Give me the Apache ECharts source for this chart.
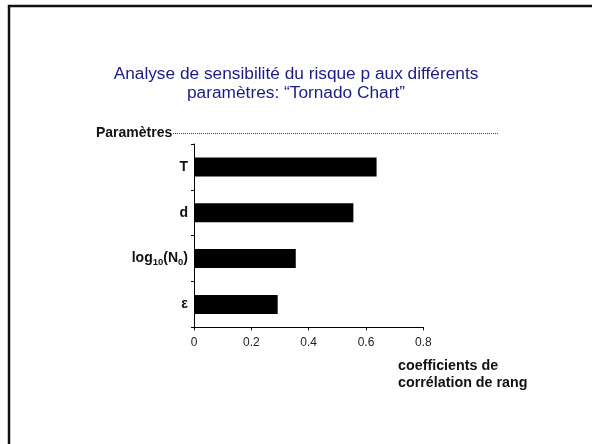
<!DOCTYPE html>
<html>
<head>
<meta charset="utf-8">
<script src="https://cdn.jsdelivr.net/npm/echarts@6/dist/echarts.min.js"></script>
<style>
  html, body { margin: 0; padding: 0; background: #fff; }
  #chart { width: 592px; height: 444px; }
</style>
</head>
<body>
<div id="chart"></div>
<script>
// Parameters, top to bottom, and their rank correlation coefficients
const parameters = ['T', 'd', 'log10(N0)', 'ε'];
const rankCorrelation = [0.637, 0.556, 0.355, 0.292];
const xTicks = [0, 0.2, 0.4, 0.6, 0.8];

const FONT = '"Liberation Sans", Arial, sans-serif';

// Rich-text labels so the log label gets proper subscripts
function paramLabel(name) {
  if (name === 'log10(N0)') {
    return '{b|log}{sub|10}{b|(N}{sub|0}{b|)}';
  }
  return '{b|' + name + '}';
}

const chart = echarts.init(document.getElementById('chart'), null, { renderer: 'canvas' });

chart.setOption({
  animation: false,
  backgroundColor: '#ffffff',
  title: {
    text: 'Analyse de sensibilité du risque p aux différents\nparamètres: “Tornado Chart”',
    left: 'center',
    top: 60,
    textStyle: {
      fontFamily: FONT,
      fontSize: 17.3,
      fontWeight: 'normal',
      color: '#1c1c86',
      lineHeight: 18.5
    }
  },
  grid: {
    left: 194,
    top: 144,
    width: 229.3,
    height: 183.3,
    containLabel: false
  },
  xAxis: {
    type: 'value',
    min: xTicks[0],
    max: xTicks[xTicks.length - 1],
    interval: 0.2,
    axisLine: { show: true, lineStyle: { color: '#000', width: 1 } },
    axisTick: { show: true, length: 3, lineStyle: { color: '#000' } },
    splitLine: { show: false },
    axisLabel: {
      fontFamily: FONT,
      fontSize: 12,
      color: '#222',
      margin: 9
    }
  },
  yAxis: {
    type: 'category',
    data: parameters,
    inverse: true,
    axisLine: { show: true, lineStyle: { color: '#000', width: 1 } },
    axisTick: { show: true, length: 3, lineStyle: { color: '#000' } },
    axisLabel: {
      margin: 6,
      formatter: paramLabel,
      rich: {
        b: { fontFamily: FONT, fontSize: 14, fontWeight: 'bold', color: '#111' },
        sub: { fontFamily: FONT, fontSize: 9.5, fontWeight: 'bold', color: '#111', padding: [8, 0, 0, 0] }
      }
    }
  },
  series: [{
    type: 'bar',
    data: rankCorrelation,
    barWidth: 19,
    itemStyle: { color: '#000' }
  }],
  graphic: [
    {
      type: 'rect',
      shape: { x: 9, y: 6, width: 620, height: 460 },
      style: { fill: 'none', stroke: '#111', lineWidth: 2.5 },
      silent: true
    },
    {
      type: 'text',
      left: 96,
      top: 126,
      style: {
        text: 'Paramètres',
        font: 'bold 14px ' + FONT,
        fill: '#111'
      }
    },
    {
      type: 'line',
      shape: { x1: 173, y1: 133.5, x2: 499, y2: 133.5 },
      style: { stroke: '#444', lineWidth: 1, lineDash: [1, 1] },
      silent: true
    },
    {
      type: 'text',
      left: 398,
      top: 357,
      style: {
        text: 'coefficients de\ncorrélation de rang',
        font: 'bold 14.3px ' + FONT,
        lineHeight: 17.6,
        fill: '#111'
      }
    }
  ]
});
</script>
</body>
</html>
